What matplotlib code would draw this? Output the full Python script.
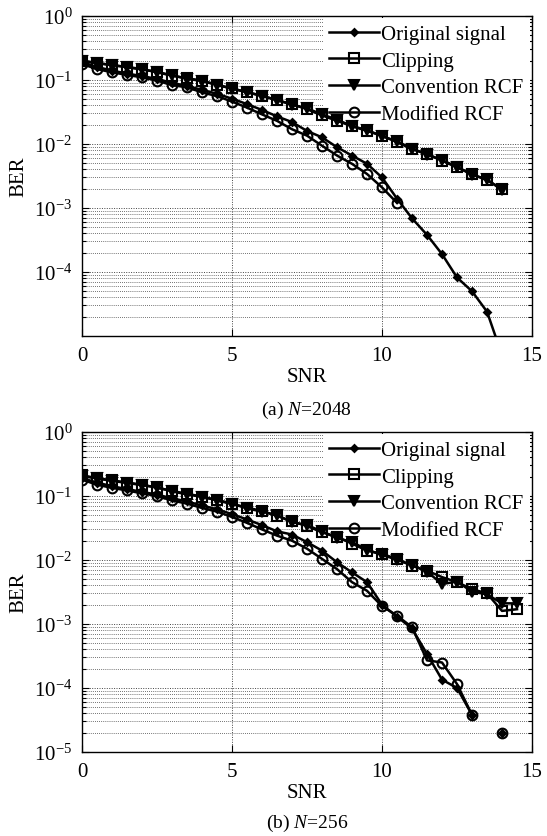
# ================================================================
# 0. Section: IMPORTS
# ================================================================
import numpy as np
from matplotlib import pyplot as plt
from matplotlib.ticker import LogLocator, NullFormatter, LogFormatterMathtext

plt.rcParams["font.family"] = ["Liberation Serif", "DejaVu Serif"]
plt.rcParams["mathtext.fontset"] = "custom"
plt.rcParams["mathtext.rm"] = "Liberation Serif"
plt.rcParams["mathtext.it"] = "Liberation Serif:italic"

nan = np.nan

# ================================================================
# 1. Section: Data
# ================================================================
series_names = ["Original signal", "Clipping", "Convention RCF", "Modified RCF"]

# (a) N=2048
snr_a = [0, 0.5, 1, 1.5, 2, 2.5, 3, 3.5, 4, 4.5, 5, 5.5, 6, 6.5, 7, 7.5, 8,
         8.5, 9, 9.5, 10, 10.5, 11, 11.5, 12, 12.5, 13, 13.5, 14]
original_a = [0.19, 0.16, 0.14, 0.126, 0.115, 0.104, 0.09, 0.081, 0.07, 0.061,
              0.051, 0.042, 0.034, 0.027, 0.022, 0.016, 0.0127, 0.0089, 0.0066,
              0.0049, 0.0030, 0.0014, 6.9e-4, 3.8e-4, 1.9e-4, 8.2e-5, 5.0e-5,
              2.4e-5, 5e-6]
clipping_a = [0.20, 0.185, 0.17, 0.16, 0.148, 0.132, 0.117, 0.106, 0.098, 0.083,
              0.074, 0.064, 0.057, 0.048, 0.042, 0.035, 0.028, 0.023, 0.019,
              0.016, 0.0135, 0.0107, 0.0083, 0.0070, 0.0055, 0.0043, 0.0034,
              0.0027, 0.0020]
conv_rcf_a = [0.198, 0.183, 0.172, 0.158, 0.146, 0.134, 0.118, 0.105, 0.096,
              0.085, 0.073, 0.065, 0.056, 0.049, 0.041, 0.036, 0.029, 0.024,
              0.019, 0.0165, 0.0132, 0.011, 0.0085, 0.0068, 0.0056, 0.0044,
              0.0033, 0.0028, 0.0019]
mod_rcf_a = [0.178, 0.148, 0.132, 0.12, 0.11, 0.098, 0.083, 0.077, 0.064, 0.056,
             0.046, 0.037, 0.029, 0.023, 0.017, 0.0135, 0.0094, 0.0066, 0.0049,
             0.0034, 0.0021, 0.0012, nan, nan, nan, nan, nan, nan, nan]

# (b) N=256
snr_b = [0, 0.5, 1, 1.5, 2, 2.5, 3, 3.5, 4, 4.5, 5, 5.5, 6, 6.5, 7, 7.5, 8,
         8.5, 9, 9.5, 10, 10.5, 11, 11.5, 12, 12.5, 13, 13.5, 14, 14.5]
original_b = [0.19, 0.162, 0.142, 0.128, 0.116, 0.105, 0.092, 0.082, 0.071,
              0.062, 0.052, 0.043, 0.035, 0.028, 0.025, 0.019, 0.014, 0.0092,
              0.0064, 0.0045, 0.0020, 0.0013, 8.5e-4, 3.4e-4, 1.35e-4, 1.0e-4,
              3.8e-5, nan, 2e-5, nan]
clipping_b = [0.21, 0.19, 0.175, 0.162, 0.15, 0.135, 0.12, 0.108, 0.098, 0.085,
              0.075, 0.066, 0.058, 0.049, 0.040, 0.034, 0.027, 0.023, 0.018,
              0.014, 0.0124, 0.0104, 0.0081, 0.0068, 0.0054, 0.0045, 0.0035,
              0.0030, 0.0016, 0.0017]
conv_rcf_b = [0.205, 0.188, 0.172, 0.16, 0.148, 0.136, 0.118, 0.106, 0.097,
              0.087, 0.076, 0.064, 0.057, 0.050, 0.039, 0.035, 0.028, 0.022,
              0.019, 0.0145, 0.012, 0.0101, 0.0083, 0.0066, 0.0042, 0.0046,
              0.0032, 0.0029, 0.0021, 0.0021]
mod_rcf_b = [0.18, 0.15, 0.134, 0.122, 0.11, 0.1, 0.085, 0.076, 0.065, 0.057,
             0.047, 0.038, 0.03, 0.024, 0.020, 0.015, 0.0104, 0.0072, 0.0045,
             0.0033, 0.0019, 0.00135, 8.9e-4, 2.7e-4, 2.5e-4, 1.15e-4, 3.8e-5,
             nan, 2e-5, nan]

x_ticks = [0, 5, 10, 15]


# ================================================================
# 2. Section: Functions
# ================================================================
def draw_panel(ax, snr, original, clipping, conv_rcf, mod_rcf, y_ticks):
    styles = [
        dict(marker="D", markersize=3.5, markerfacecolor="k"),
        dict(marker="s", markersize=7, markerfacecolor="none"),
        dict(marker="v", markersize=7.5, markerfacecolor="k"),
        dict(marker="o", markersize=7, markerfacecolor="none"),
    ]
    for values, name, style in zip(
        [original, clipping, conv_rcf, mod_rcf], series_names, styles
    ):
        ax.semilogy(
            snr[: len(values)],
            values,
            color="k",
            lw=1.8,
            markeredgewidth=1.5,
            markeredgecolor="k",
            label=name,
            zorder=3,
            **style,
        )

    ax.set_xlim(0, 15)
    ax.set_ylim(1e-5, 1)
    ax.set_xticks(x_ticks)
    ax.set_yticks(y_ticks)
    ax.yaxis.set_major_formatter(LogFormatterMathtext())
    ax.yaxis.set_minor_locator(LogLocator(base=10, subs=np.arange(2, 10)))
    ax.yaxis.set_minor_formatter(NullFormatter())

    ax.grid(True, which="major", ls=(0, (1, 1.5)), lw=0.7, color="#444444")
    ax.grid(True, which="minor", axis="y", ls=(0, (1, 1.5)), lw=0.6, color="#444444")

    ax.tick_params(which="both", direction="in", top=True, right=True,
                   labelsize=15, width=0.8)
    ax.tick_params(which="major", length=5, pad=7)
    ax.tick_params(which="minor", length=3)
    for spine in ax.spines.values():
        spine.set_linewidth(1.0)

    ax.set_xlabel("SNR", fontsize=15, labelpad=2)
    ax.set_ylabel("BER", fontsize=15)
    ax.yaxis.set_label_coords(-0.12, 0.5)

    # legend text sits just inside the right spine, rows ~27 px apart
    leg = ax.legend(
        loc="upper right",
        bbox_to_anchor=(1.0, 1.0),
        borderaxespad=0.1,
        borderpad=0.3,
        fontsize=15,
        handlelength=2.4,
        handletextpad=0.1,
        labelspacing=0.34,
        frameon=True,
        fancybox=False,
        framealpha=1,
    )
    leg.get_frame().set_edgecolor("none")
    leg.get_frame().set_facecolor("white")
    # above the grid, below the curves
    leg.set_zorder(2)


# ================================================================
# 3. Section: Figure
# ================================================================
fig = plt.figure(figsize=(5.47, 8.37), dpi=100)

ax_a = fig.add_axes((0.1499, 0.5974, 0.8227, 0.3823))
ax_b = fig.add_axes((0.1499, 0.1004, 0.8227, 0.3823))

draw_panel(ax_a, snr_a, original_a, clipping_a, conv_rcf_a, mod_rcf_a,
           [1e-4, 1e-3, 1e-2, 1e-1, 1])
draw_panel(ax_b, snr_b, original_b, clipping_b, conv_rcf_b, mod_rcf_b,
           [1e-5, 1e-4, 1e-3, 1e-2, 1e-1, 1])

fig.text(0.561, 1 - 410 / 837, "(a) $N$=2048", ha="center", va="center", fontsize=14)
fig.text(0.561, 1 - 823 / 837, "(b) $N$=256", ha="center", va="center", fontsize=14)

fig.savefig("out.png", dpi=100)
